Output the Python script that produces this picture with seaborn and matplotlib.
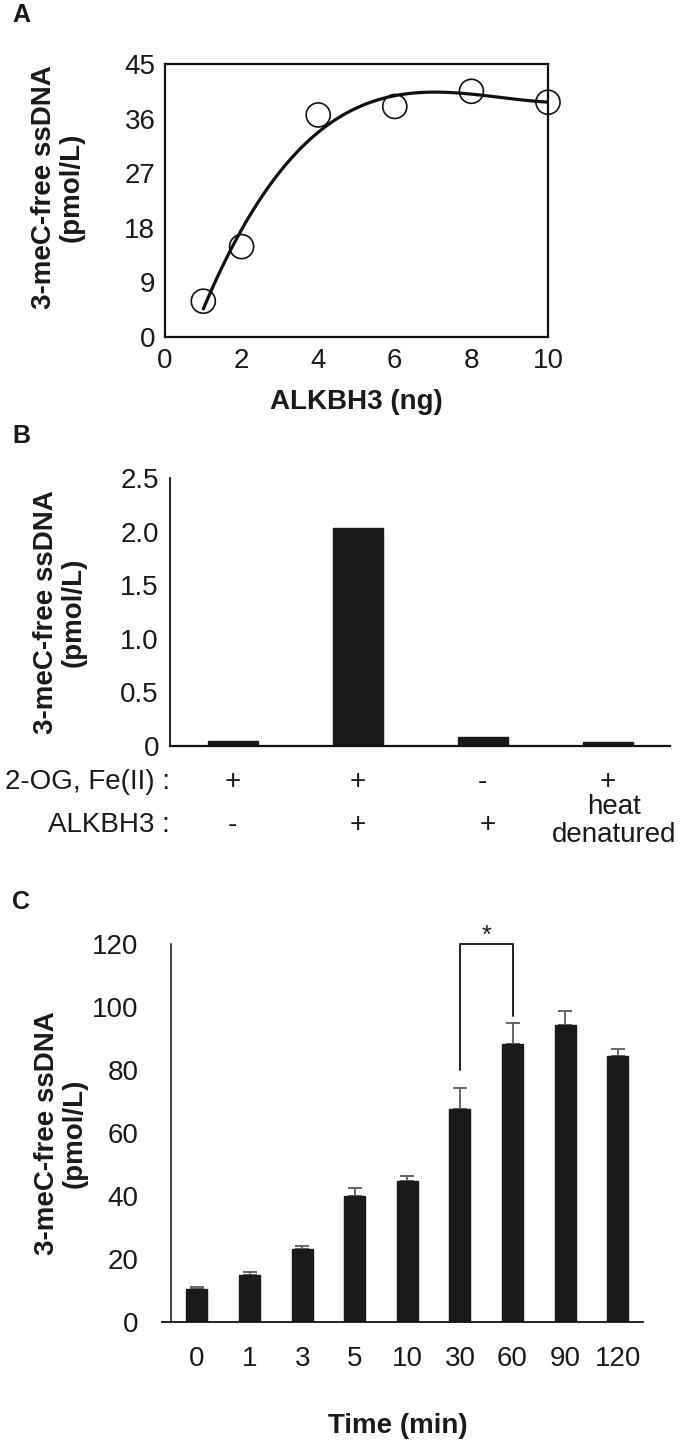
import numpy as np
import pandas as pd
import matplotlib
matplotlib.use("Agg")
import matplotlib.pyplot as plt
import matplotlib.transforms as mtransforms
import seaborn as sns

# ---------------- data ----------------
# Panel A
alkbh3_ng = [1, 2, 4, 6, 8, 10]
free_ssdna_a = [5.9, 14.9, 36.6, 38.0, 40.5, 38.7]
a_yticks = [0, 9, 18, 27, 36, 45]
a_xticks = [0, 2, 4, 6, 8, 10]

# Panel B
b_conditions = ["c1", "c2", "c3", "c4"]
b_values = [0.05, 2.03, 0.08, 0.04]
b_og_fe = ["+", "+", "-", "+"]
b_alkbh3 = ["-", "+", "+", "heat\ndenatured"]
b_yticks = [0, 0.5, 1.0, 1.5, 2.0, 2.5]
b_yticklabels = ["0", "0.5", "1.0", "1.5", "2.0", "2.5"]

# Panel C
c_times = ["0", "1", "3", "5", "10", "30", "60", "90", "120"]
c_means = [10.4, 14.8, 23.2, 40.0, 44.7, 67.5, 88.2, 94.2, 84.4]
c_errs = [0.8, 1.0, 0.9, 2.6, 1.5, 6.7, 6.6, 4.6, 2.4]
c_yticks = [0, 20, 40, 60, 80, 100, 120]
sig_pair = ("30", "60")
sig_top = 120
sig_legs = (80, 97)

# ---------------- style ----------------
sns.set_style("white")
plt.rcParams["font.family"] = ["Liberation Sans", "DejaVu Sans"]
plt.rcParams["axes.linewidth"] = 1.2

BAR = "#1a1a1a"
TXT = "#1a1a1a"
ylab = "3-meC-free ssDNA\n(pmol/L)"

fig = plt.figure(figsize=(6.81, 14.41), dpi=100)
W, H = 681, 1441


def axes_px(l, r, t, b):
    return fig.add_axes([l / W, 1 - b / H, (r - l) / W, (b - t) / H])


# ---------------- Panel A ----------------
axA = axes_px(165, 548, 64, 337)
sns.regplot(x=alkbh3_ng, y=free_ssdna_a, order=3, ci=None, scatter=False,
            ax=axA, line_kws=dict(color="#111111", lw=2.3))
sns.scatterplot(x=alkbh3_ng, y=free_ssdna_a, ax=axA, s=300, marker="o",
                edgecolor="#111111", linewidth=1.2, zorder=5, clip_on=False)
for coll in axA.collections:
    coll.set_facecolor("none")
    coll.set_edgecolor("#111111")
axA.set_xlim(0, 10)
axA.set_ylim(0, 45)
axA.set_xticks(a_xticks)
axA.set_yticks(a_yticks)
axA.tick_params(direction="in", length=5, width=0.9, color="#888888",
                labelsize=20, labelcolor=TXT)
axA.tick_params(axis="x", pad=8)
axA.tick_params(axis="y", pad=7)
for sp in axA.spines.values():
    sp.set_linewidth(1.6)
    sp.set_color("#111111")
axA.set_xlabel("ALKBH3 (ng)", fontsize=20, fontweight="bold", color=TXT)
axA.xaxis.set_label_coords(0.5, -0.19)
axA.set_ylabel(ylab, fontsize=20, fontweight="bold", color=TXT, va="center",
               linespacing=1.05)
axA.yaxis.set_label_coords(-0.28, 0.55)
fig.text(12 / W, 1 - 15 / H, "A", fontsize=18, fontweight="bold",
         va="center", ha="left", color=TXT)

# ---------------- Panel B ----------------
axB = axes_px(170, 670, 478, 746)
sns.barplot(x=b_conditions, y=b_values, ax=axB, color=BAR, width=0.4,
            saturation=1, edgecolor=BAR)
axB.set_xlim(-0.5, 3.5)
axB.set_ylim(0, 2.5)
axB.set_yticks(b_yticks)
axB.set_yticklabels(b_yticklabels)
axB.set_xticks([0.5, 1.5, 2.5, 3.5])
axB.set_xticklabels([])
axB.tick_params(axis="x", direction="in", length=4, width=1.1, color="#111111")
axB.tick_params(axis="y", direction="out", length=3, width=1.1,
                color="#111111", labelsize=20, labelcolor=TXT, pad=5)
axB.spines["top"].set_visible(False)
axB.spines["right"].set_visible(False)
axB.spines["left"].set_linewidth(1.3)
axB.spines["bottom"].set_linewidth(1.6)
axB.spines["left"].set_color("#111111")
axB.spines["bottom"].set_color("#111111")
axB.set_xlabel("")
axB.set_ylabel(ylab, fontsize=20, fontweight="bold", color=TXT, va="center",
               linespacing=1.05)
axB.yaxis.set_label_coords(-0.22, 0.5)
trB = mtransforms.blended_transform_factory(axB.transData, axB.transAxes)
axB.text(-0.5, -0.135, "2-OG, Fe(II) :", transform=trB, ha="right",
         va="center", fontsize=20, color=TXT)
axB.text(-0.5, -0.295, "ALKBH3 :", transform=trB, ha="right",
         va="center", fontsize=20, color=TXT)
for i, (s1, s2) in enumerate(zip(b_og_fe, b_alkbh3)):
    axB.text(i, -0.135, s1, transform=trB, ha="center", va="center",
             fontsize=20, color=TXT)
    if "\n" in s2:
        axB.text(i + 0.05, -0.28, s2, transform=trB, ha="center", va="center",
                 fontsize=20, color=TXT, linespacing=1.1)
    else:
        axB.text(i + 0.04 * (i == 2), -0.295, s2, transform=trB, ha="center",
                 va="center", fontsize=20, color=TXT)
fig.text(12 / W, 1 - 436 / H, "B", fontsize=18, fontweight="bold",
         va="center", ha="left", color=TXT)

# ---------------- Panel C ----------------
axC = axes_px(162, 643, 944, 1322)
dfC = pd.DataFrame({"time": c_times, "mean": c_means})
pos = np.arange(len(c_times))
axC.errorbar(pos, c_means, yerr=[np.zeros(len(c_errs)), c_errs], fmt="none",
             ecolor="#666666", elinewidth=1.4, capsize=5, capthick=1.4,
             zorder=1)
sns.barplot(data=dfC, x="time", y="mean", order=c_times, ax=axC, color=BAR,
            width=0.4, saturation=1, edgecolor=BAR, zorder=2)
axC.set_xlim(-0.665, 8.48)
axC.set_ylim(0, 120)
axC.set_yticks(c_yticks)
axC.spines["left"].set_position(("data", -0.5))
axC.spines["top"].set_visible(False)
axC.spines["right"].set_visible(False)
axC.spines["left"].set_linewidth(1.1)
axC.spines["bottom"].set_linewidth(1.3)
axC.spines["left"].set_color("#111111")
axC.spines["bottom"].set_color("#111111")
axC.tick_params(axis="x", length=0, labelsize=20, labelcolor=TXT, pad=17)
axC.tick_params(axis="y", direction="out", length=6, width=1.1,
                color="#111111", labelsize=20, labelcolor=TXT, pad=17)
axC.set_xlabel("Time (min)", fontsize=20, fontweight="bold", color=TXT)
axC.xaxis.set_label_coords(0.49, -0.24)
axC.set_ylabel(ylab, fontsize=20, fontweight="bold", color=TXT, va="center",
               linespacing=1.05)
axC.yaxis.set_label_coords(-0.21, 0.5)

i1, i2 = c_times.index(sig_pair[0]), c_times.index(sig_pair[1])
axC.plot([i1, i1, i2, i2], [sig_legs[0], sig_top, sig_top, sig_legs[1]],
         color="#111111", lw=1.3, clip_on=False, zorder=3)
axC.text((i1 + i2) / 2, sig_top + 2.5, "*", ha="center", va="center",
         fontsize=18, color=TXT)
fig.text(12 / W, 1 - 902 / H, "C", fontsize=18, fontweight="bold",
         va="center", ha="left", color=TXT)

fig.savefig("out.png", dpi=100, facecolor="white")
